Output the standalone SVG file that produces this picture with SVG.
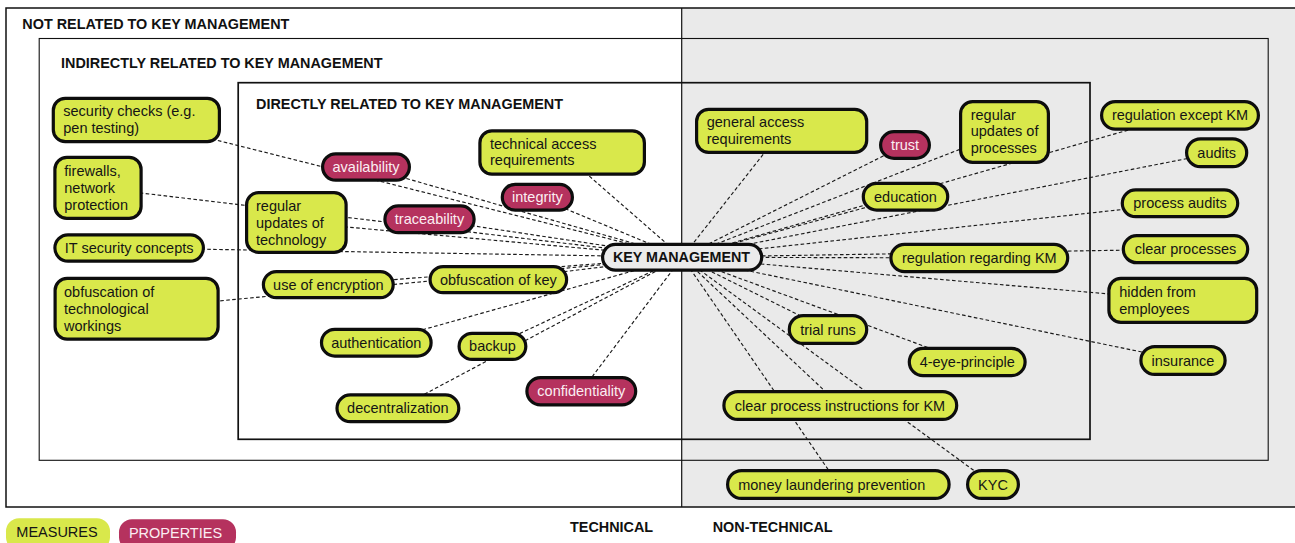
<svg xmlns="http://www.w3.org/2000/svg" width="1295" height="543" viewBox="0 0 1295 543">
  <style>
    text { font-family: "Liberation Sans", Arial, Helvetica, sans-serif; font-size: 14.5px; fill: #151515; }
    .title { font-weight: bold; font-size: 14.4px; fill: #111; }
    .mid { text-anchor: middle; }
    .measure { fill: #d9e84b; stroke: #0d0d0d; stroke-width: 3.2; }
    .property { fill: #b5325e; stroke: #0d0d0d; stroke-width: 3.2; }
    .light { fill: #fbeef2; }
    .core { fill: #ebebeb; stroke: #0d0d0d; stroke-width: 3.2; }
    .frame { fill: none; stroke: #111; }
    .edge { stroke: #1a1a1a; stroke-width: 1.15; stroke-dasharray: 3.6 2.4; fill: none; }
  </style>

  <!-- scope areas -->
  <rect x="0" y="0" width="1295" height="543" fill="#ffffff"/>
  <rect x="681.7" y="8" width="620" height="499" fill="#eaeaea"/>
  <rect class="frame" x="6" y="8" width="1300" height="499" stroke-width="1.5"/>
  <rect class="frame" x="39.2" y="38.5" width="1229" height="421.8" stroke-width="1.1"/>
  <rect class="frame" x="238.2" y="82.7" width="851.8" height="356.6" stroke-width="1.7"/>
  <line x1="681.7" y1="8" x2="681.7" y2="507" stroke="#111" stroke-width="1.2"/>
  <text class="title" x="22.3" y="29.3">NOT RELATED TO KEY MANAGEMENT</text>
  <text class="title" x="61" y="67.7">INDIRECTLY RELATED TO KEY MANAGEMENT</text>
  <text class="title" x="256" y="109.3">DIRECTLY RELATED TO KEY MANAGEMENT</text>

  <!-- connectors: every node is tied to the key management hub -->
  <g id="connectors" class="edge">
    <line x1="136.4" y1="120" x2="682.2" y2="257.2"/>
    <line x1="98" y1="187.9" x2="682.2" y2="257.2"/>
    <line x1="129.2" y1="248" x2="682.2" y2="257.2"/>
    <line x1="136.6" y1="308.7" x2="682.2" y2="257.2"/>
    <line x1="296.4" y1="222.5" x2="682.2" y2="257.2"/>
    <line x1="366" y1="167" x2="682.2" y2="257.2"/>
    <line x1="429.5" y1="219.3" x2="682.2" y2="257.2"/>
    <line x1="537.4" y1="197.2" x2="682.2" y2="257.2"/>
    <line x1="562.2" y1="152.5" x2="682.2" y2="257.2"/>
    <line x1="328.3" y1="284.7" x2="682.2" y2="257.2"/>
    <line x1="498.4" y1="279.7" x2="682.2" y2="257.2"/>
    <line x1="376.3" y1="342.7" x2="682.2" y2="257.2"/>
    <line x1="492.5" y1="346.4" x2="682.2" y2="257.2"/>
    <line x1="397.9" y1="408.3" x2="682.2" y2="257.2"/>
    <line x1="581.3" y1="391.2" x2="682.2" y2="257.2"/>
    <line x1="781.7" y1="130.9" x2="682.2" y2="257.2"/>
    <line x1="905" y1="145" x2="682.2" y2="257.2"/>
    <line x1="1004.5" y1="132" x2="682.2" y2="257.2"/>
    <line x1="905.5" y1="196.7" x2="682.2" y2="257.2"/>
    <line x1="1180" y1="115.3" x2="682.2" y2="257.2"/>
    <line x1="1216.7" y1="152.8" x2="682.2" y2="257.2"/>
    <line x1="1180" y1="203.3" x2="682.2" y2="257.2"/>
    <line x1="979.3" y1="258" x2="682.2" y2="257.2"/>
    <line x1="1185.5" y1="249.2" x2="682.2" y2="257.2"/>
    <line x1="1182.8" y1="300.3" x2="682.2" y2="257.2"/>
    <line x1="828" y1="329.5" x2="682.2" y2="257.2"/>
    <line x1="967.2" y1="362" x2="682.2" y2="257.2"/>
    <line x1="1183" y1="360.5" x2="682.2" y2="257.2"/>
    <line x1="840.3" y1="405.5" x2="682.2" y2="257.2"/>
    <line x1="838.4" y1="484.5" x2="682.2" y2="257.2"/>
    <line x1="993" y1="484.5" x2="682.2" y2="257.2"/>
  </g>

  <!-- technical measures and properties -->
  <g id="security-checks"><rect class="measure" x="53.3" y="98.3" width="166.1" height="43.4" rx="12"/>
    <text x="63.3" y="116">security checks (e.g.<tspan x="63.3" y="133">pen testing)</tspan></text></g>
  <g id="firewalls"><rect class="measure" x="54.9" y="157.3" width="86.2" height="61.1" rx="12"/>
    <text x="64.3" y="176">firewalls,<tspan x="64.3" y="193">network</tspan><tspan x="64.3" y="210">protection</tspan></text></g>
  <g id="it-security-concepts"><rect class="measure" x="54.9" y="234.9" width="148.5" height="26.2" rx="13.1"/>
    <text class="mid" x="129.2" y="253">IT security concepts</text></g>
  <g id="obfuscation-of-workings"><rect class="measure" x="55.1" y="278.3" width="163" height="60.8" rx="12"/>
    <text x="64" y="297">obfuscation of<tspan x="64" y="314">technological</tspan><tspan x="64" y="331">workings</tspan></text></g>
  <g id="regular-updates-technology"><rect class="measure" x="246.6" y="192.6" width="99.5" height="59.8" rx="12"/>
    <text x="256" y="211">regular<tspan x="256" y="228">updates of</tspan><tspan x="256" y="245">technology</tspan></text></g>
  <g id="availability"><rect class="property" x="322.6" y="153.9" width="86.8" height="26.2" rx="13.1"/>
    <text class="mid light" x="366" y="172">availability</text></g>
  <g id="traceability"><rect class="property" x="384.9" y="205.9" width="89.2" height="26.8" rx="13.4"/>
    <text class="mid light" x="429.5" y="224.3">traceability</text></g>
  <g id="integrity"><rect class="property" x="502.3" y="184.3" width="70.1" height="25.8" rx="12.9"/>
    <text class="mid light" x="537.4" y="202.2">integrity</text></g>
  <g id="technical-access"><rect class="measure" x="479.9" y="130.9" width="164.5" height="43.2" rx="12"/>
    <text x="490" y="148.5">technical access<tspan x="490" y="165">requirements</tspan></text></g>
  <g id="use-of-encryption"><rect class="measure" x="263.4" y="271.6" width="129.8" height="26.1" rx="13"/>
    <text class="mid" x="328.3" y="289.7">use of encryption</text></g>
  <g id="obfuscation-of-key"><rect class="measure" x="430.1" y="266.6" width="136.5" height="26.1" rx="13"/>
    <text class="mid" x="498.4" y="284.7">obfuscation of key</text></g>
  <g id="authentication"><rect class="measure" x="321.5" y="329.3" width="109.6" height="26.8" rx="13.4"/>
    <text class="mid" x="376.3" y="347.7">authentication</text></g>
  <g id="backup"><rect class="measure" x="459.1" y="333.3" width="66.7" height="26.1" rx="13"/>
    <text class="mid" x="492.5" y="351.4">backup</text></g>
  <g id="decentralization"><rect class="measure" x="337" y="394.9" width="121.8" height="26.8" rx="13.4"/>
    <text class="mid" x="397.9" y="413.3">decentralization</text></g>
  <g id="confidentiality"><rect class="property" x="526.9" y="377.6" width="108.8" height="27.3" rx="13.6"/>
    <text class="mid light" x="581.3" y="396.2">confidentiality</text></g>

  <!-- non-technical measures and properties -->
  <g id="general-access"><rect class="measure" x="696.6" y="109.3" width="170.1" height="43.1" rx="12"/>
    <text x="706.7" y="127">general access<tspan x="706.7" y="143.5">requirements</tspan></text></g>
  <g id="trust"><rect class="property" x="880.6" y="131.6" width="48.8" height="26.8" rx="13.4"/>
    <text class="mid light" x="905" y="150">trust</text></g>
  <g id="regular-updates-processes"><rect class="measure" x="960.6" y="101.6" width="87.8" height="60.8" rx="12"/>
    <text x="970.7" y="119.5">regular<tspan x="970.7" y="136">updates of</tspan><tspan x="970.7" y="153">processes</tspan></text></g>
  <g id="education"><rect class="measure" x="863.3" y="183.3" width="84.4" height="26.8" rx="13.4"/>
    <text class="mid" x="905.5" y="201.7">education</text></g>
  <g id="regulation-except-km"><rect class="measure" x="1101.6" y="101.6" width="156.8" height="27.5" rx="13.7"/>
    <text class="mid" x="1180" y="120.3">regulation except KM</text></g>
  <g id="audits"><rect class="measure" x="1186.6" y="138.9" width="60.1" height="27.8" rx="13.9"/>
    <text class="mid" x="1216.7" y="157.8">audits</text></g>
  <g id="process-audits"><rect class="measure" x="1122.3" y="189.9" width="115.4" height="26.8" rx="13.4"/>
    <text class="mid" x="1180" y="208.3">process audits</text></g>
  <g id="regulation-regarding-km"><rect class="measure" x="890.9" y="244.3" width="176.8" height="27.4" rx="13.7"/>
    <text class="mid" x="979.3" y="263">regulation regarding KM</text></g>
  <g id="clear-processes"><rect class="measure" x="1123.3" y="235.6" width="124.4" height="27.1" rx="13.5"/>
    <text class="mid" x="1185.5" y="254.2">clear processes</text></g>
  <g id="hidden-from-employees"><rect class="measure" x="1108.9" y="278.3" width="147.8" height="44.1" rx="12"/>
    <text x="1119.3" y="297">hidden from<tspan x="1119.3" y="313.5">employees</tspan></text></g>
  <g id="trial-runs"><rect class="measure" x="789.3" y="315.6" width="77.4" height="27.8" rx="13.9"/>
    <text class="mid" x="828" y="334.5">trial runs</text></g>
  <g id="four-eye-principle"><rect class="measure" x="909.3" y="348.3" width="115.8" height="27.4" rx="13.7"/>
    <text class="mid" x="967.2" y="367">4-eye-principle</text></g>
  <g id="insurance"><rect class="measure" x="1140.9" y="346.6" width="84.2" height="27.8" rx="13.9"/>
    <text class="mid" x="1183" y="365.5">insurance</text></g>
  <g id="clear-process-instructions"><rect class="measure" x="723.9" y="391.6" width="232.8" height="27.8" rx="13.9"/>
    <text class="mid" x="840" y="410.5">clear process instructions for KM</text></g>
  <g id="money-laundering-prevention"><rect class="measure" x="727.6" y="470.6" width="221.5" height="27.8" rx="13.9"/>
    <text class="mid" x="831.7" y="489.5">money laundering prevention</text></g>
  <g id="kyc"><rect class="measure" x="967.6" y="470.6" width="50.8" height="27.8" rx="13.9"/>
    <text class="mid" x="993" y="489.5">KYC</text></g>

  <!-- hub -->
  <g id="key-management"><rect class="core" x="602.6" y="244.3" width="159.1" height="25.8" rx="12.9"/>
    <text class="mid title" x="681.5" y="261.7" style="font-size:14.3px">KEY MANAGEMENT</text></g>

  <!-- legend and axis labels -->
  <g id="legend-measures"><rect x="6" y="518.3" width="104" height="32" rx="13" fill="#d9e84b"/>
    <text class="mid" x="57" y="537.3">MEASURES</text></g>
  <g id="legend-properties"><rect x="119" y="519.3" width="117" height="31" rx="13" fill="#b5325e"/>
    <text class="mid light" x="175.5" y="538.3">PROPERTIES</text></g>
  <text class="title" x="570" y="532.3">TECHNICAL</text>
  <text class="title" x="712.7" y="532.3">NON-TECHNICAL</text>
</svg>
